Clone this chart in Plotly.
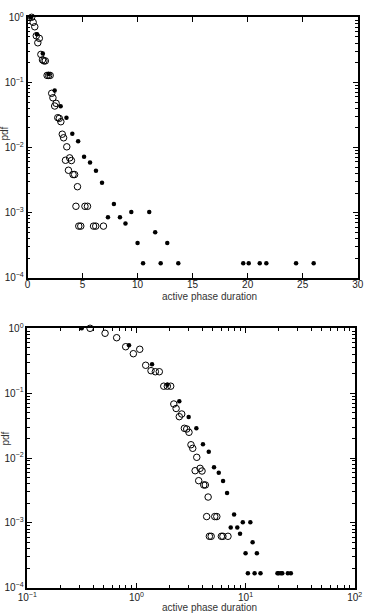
import plotly.graph_objects as go

# ---- data ----
filled_x = [0.315, 0.855, 1.39, 1.92, 2.47, 3.01, 3.54, 4.07, 4.6, 5.14, 5.68, 6.22, 6.77,
            7.31, 7.85, 8.4, 8.9, 9.43, 10.0, 10.5, 11.06, 11.6, 12.1, 12.7, 13.7,
            19.6, 20.1, 21.1, 21.7, 24.4, 26.0]
filled_y = [1.0, 0.547, 0.279, 0.135, 0.0749, 0.0429, 0.0287, 0.0163, 0.0125, 0.0072, 0.0059,
            0.0044, 0.00288, 8.5e-4, 1.35e-3, 8.5e-4, 6.8e-4, 1.02e-3, 3.4e-4, 1.67e-4, 1.02e-3,
            5.0e-4, 1.67e-4, 3.4e-4, 1.67e-4, 1.67e-4, 1.67e-4, 1.67e-4, 1.67e-4, 1.67e-4, 1.67e-4]

open_x = [0.376, 0.516, 0.659, 0.797, 0.937, 1.072, 1.216, 1.36, 1.49, 1.62, 1.78, 1.92, 2.06,
          2.2, 2.31, 2.47, 2.6, 2.75, 2.89, 3.03, 3.16, 3.28, 3.45, 3.57, 3.72, 3.83, 3.99,
          4.14, 4.28, 4.4, 4.54, 4.66, 4.84, 5.22, 5.45, 6.0, 6.2, 6.9]
open_y = [1.0, 0.838, 0.716, 0.52, 0.406, 0.475, 0.269, 0.222, 0.214, 0.214, 0.128, 0.128, 0.128,
          0.068, 0.058, 0.0434, 0.0477, 0.0287, 0.028, 0.0249, 0.016, 0.0141, 0.00637, 0.01025,
          0.00447, 0.00693, 0.0063, 0.00384, 0.00384, 0.00125, 0.0025, 6.2e-4, 6.2e-4, 0.00125,
          0.00125, 6.2e-4, 6.2e-4, 6.2e-4]

lin_x_ticks = [0, 5, 10, 15, 20, 25, 30]
y_tickvals = [1e-4, 1e-3, 1e-2, 1e-1, 1]
y_ticktext = ["10<sup>−4</sup>", "10<sup>−3</sup>", "10<sup>−2</sup>", "10<sup>−1</sup>", "10<sup>0</sup>"]
logx_tickvals = [0.1, 1, 10, 100]
logx_ticktext = ["10<sup>−1</sup>", "10<sup>0</sup>", "10<sup>1</sup>", "10<sup>2</sup>"]

x_title = "active phase duration"
y_title = "pdf"

W, H = 367, 613
FONT = "Liberation Sans, Arial, sans-serif"


def minor_vals(lo, hi):
    out = []
    for e in range(lo, hi):
        for m in range(2, 10):
            out.append(m * 10 ** e)
    return out


fig = go.Figure()

for xa, ya in (("x", "y"), ("x2", "y2")):
    fig.add_trace(go.Scatter(
        x=open_x, y=open_y, mode="markers", xaxis=xa, yaxis=ya, cliponaxis=False,
        marker=dict(symbol="circle-open", size=6.5, color="black", line=dict(width=1, color="black")),
        showlegend=False))
    fig.add_trace(go.Scatter(
        x=filled_x, y=filled_y, mode="markers", xaxis=xa, yaxis=ya, cliponaxis=False,
        marker=dict(symbol="circle", size=4.5, color="black", line=dict(width=0)),
        showlegend=False))

axis_common = dict(showline=True, linecolor="black", linewidth=1.5, mirror="ticks",
                   ticks="inside", ticklen=5, tickwidth=1, tickcolor="black",
                   showgrid=False, zeroline=False, automargin=False,
                   tickfont=dict(family=FONT, size=10, color="#222"))

minor_log_y = dict(ticks="inside", ticklen=2.5, tickwidth=1, tickcolor="black",
                   tickvals=minor_vals(-4, 0), showgrid=False)
minor_log_x = dict(ticks="inside", ticklen=2.5, tickwidth=1, tickcolor="black",
                   tickvals=minor_vals(-1, 2), showgrid=False)

fig.update_layout(
    width=W, height=H,
    margin=dict(l=0, r=0, t=0, b=0, autoexpand=False),
    paper_bgcolor="white", plot_bgcolor="white",
    xaxis=dict(domain=[27.5 / W, 357.7 / W], range=[0, 30], anchor="y",
               tickmode="array", tickvals=lin_x_ticks, ticklabelstandoff=-3,
               ticktext=[str(v) for v in lin_x_ticks], **axis_common),
    yaxis=dict(domain=[1 - 277.7 / H, 1 - 17.3 / H], type="log", range=[-4, 0], anchor="x",
               tickmode="array", tickvals=y_tickvals, ticktext=y_ticktext,
               minor=minor_log_y, **axis_common),
    xaxis2=dict(domain=[27.3 / W, 354.7 / W], type="log", range=[-1, 2], anchor="y2",
                tickmode="array", tickvals=logx_tickvals, ticktext=logx_ticktext,
                minor=minor_log_x, **axis_common),
    yaxis2=dict(domain=[1 - 587.7 / H, 1 - 328.3 / H], type="log", range=[-4, 0], anchor="x2",
                tickmode="array", tickvals=y_tickvals, ticktext=y_ticktext,
                minor=minor_log_y, **axis_common),
)

ann_font = dict(family=FONT, size=10, color="#333")
for ytop in (296, 607.5):
    fig.add_annotation(text=x_title, x=209 / W, y=1 - ytop / H, xref="paper", yref="paper",
                       showarrow=False, font=ann_font, xanchor="center", yanchor="middle")
for yc in (134, 439):
    fig.add_annotation(text=y_title, x=4.5 / W, y=1 - yc / H, xref="paper", yref="paper",
                       showarrow=False, font=ann_font, textangle=-90,
                       xanchor="center", yanchor="middle")

fig.write_html("out.html")
